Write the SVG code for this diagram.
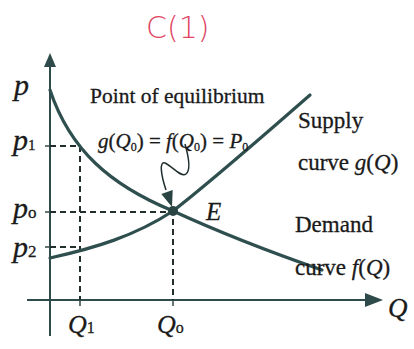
<svg xmlns="http://www.w3.org/2000/svg" width="414" height="349" viewBox="0 0 414 349">
  <defs>
    <style>
      .t { font-family: "Liberation Serif", "Times New Roman", serif; fill: #1a1a1a; stroke: #1a1a1a; stroke-width: 0.3; }
      .i { font-style: italic; }
      .axis { stroke: #2f4a4a; stroke-width: 2; fill: none; }
      .curve { stroke: #2f4f4f; stroke-width: 3.2; fill: none; stroke-linecap: round; }
      .dash { stroke: #222e2e; stroke-width: 2; stroke-dasharray: 6 4; fill: none; }
      .tick { stroke: #2f4a4a; stroke-width: 1.5; }
    </style>
  </defs>
  <rect width="414" height="349" fill="#ffffff"/>

  <text id="title" x="146" y="38" font-family="DejaVu Sans, Liberation Sans, sans-serif" font-size="30" font-weight="200" fill="#e0455f">C(1)</text>

  <g id="axes">
    <line class="axis" x1="50" y1="336" x2="50" y2="66"/>
    <path d="M50,53 L44,67 L56,67 Z" fill="#2f4a4a"/>
    <line class="axis" x1="27" y1="300" x2="368" y2="300"/>
    <path d="M383,300 L365,293 L365,307 Z" fill="#2f4a4a"/>
    <line class="tick" x1="45" y1="146" x2="50" y2="146"/>
    <line class="tick" x1="45" y1="212" x2="50" y2="212"/>
    <line class="tick" x1="45" y1="247" x2="50" y2="247"/>
    <line class="tick" x1="80" y1="300" x2="80" y2="306"/>
    <line class="tick" x1="173" y1="300" x2="173" y2="306"/>
  </g>

  <g id="guides">
    <path class="dash" d="M50,146 H80 V300"/>
    <path class="dash" d="M50,212 H173 V300"/>
    <path class="dash" d="M50,247 H80"/>
  </g>

  <g id="connectors">
    <path id="demand" class="curve" d="M50,90 C70,150 110,185 173,211 C210,228 270,252 322,270"/>
    <path id="supply" class="curve" d="M50,258 C95,248 135,236 173,211 C200,190 270,130 310,95"/>
    <path id="pointer" d="M185,144 C189,158 191,170 186,174 C181,178 172,166 165,163 C159,161 161,175 166,190" stroke="#1f2f2f" stroke-width="1.5" fill="none"/>
    <path d="M172,207 L161.3,193.9 L172.7,190.1 Z" fill="#2a4444"/>
  </g>

  <g id="E">
    <circle cx="173" cy="211" r="5" fill="#2a4444"/>
    <text class="t i" x="206" y="220" font-size="25">E</text>
  </g>

  <g id="labels-p">
    <text class="t i" x="14" y="95" font-size="30">p</text>
    <text class="t" x="13" y="150" font-size="30"><tspan class="i">p</tspan><tspan font-size="15">1</tspan></text>
    <text class="t" x="13" y="218" font-size="30"><tspan class="i">p</tspan><tspan font-size="17">o</tspan></text>
    <text class="t" x="13" y="257" font-size="30"><tspan class="i">p</tspan><tspan font-size="17">2</tspan></text>
  </g>

  <g id="labels-q">
    <text class="t" x="68" y="333" font-size="26"><tspan class="i">Q</tspan><tspan font-size="16">1</tspan></text>
    <text class="t" x="157" y="333" font-size="26"><tspan class="i">Q</tspan><tspan font-size="16">o</tspan></text>
    <text class="t i" x="388" y="317" font-size="27">Q</text>
  </g>

  <g id="equilibrium-note">
    <text class="t" x="90" y="103" font-size="21.5">Point of equilibrium</text>
    <text class="t" x="98" y="148" font-size="21"><tspan class="i">g</tspan>(<tspan class="i">Q</tspan><tspan font-size="12" dy="3">0</tspan><tspan dy="-3">) = </tspan><tspan class="i">f</tspan>(<tspan class="i">Q</tspan><tspan font-size="12" dy="3">0</tspan><tspan dy="-3">) = </tspan><tspan class="i">P</tspan><tspan font-size="12" dy="3">0</tspan></text>
  </g>

  <g id="supply-label">
    <text class="t" x="298" y="128" font-size="23">Supply</text>
    <text class="t" x="298" y="170" font-size="23">curve <tspan class="i">g</tspan>(<tspan class="i">Q</tspan>)</text>
  </g>

  <g id="demand-label">
    <text class="t" x="295" y="232" font-size="23">Demand</text>
    <text class="t" x="295" y="275" font-size="23">curve <tspan class="i">f</tspan>(<tspan class="i">Q</tspan>)</text>
  </g>
</svg>
